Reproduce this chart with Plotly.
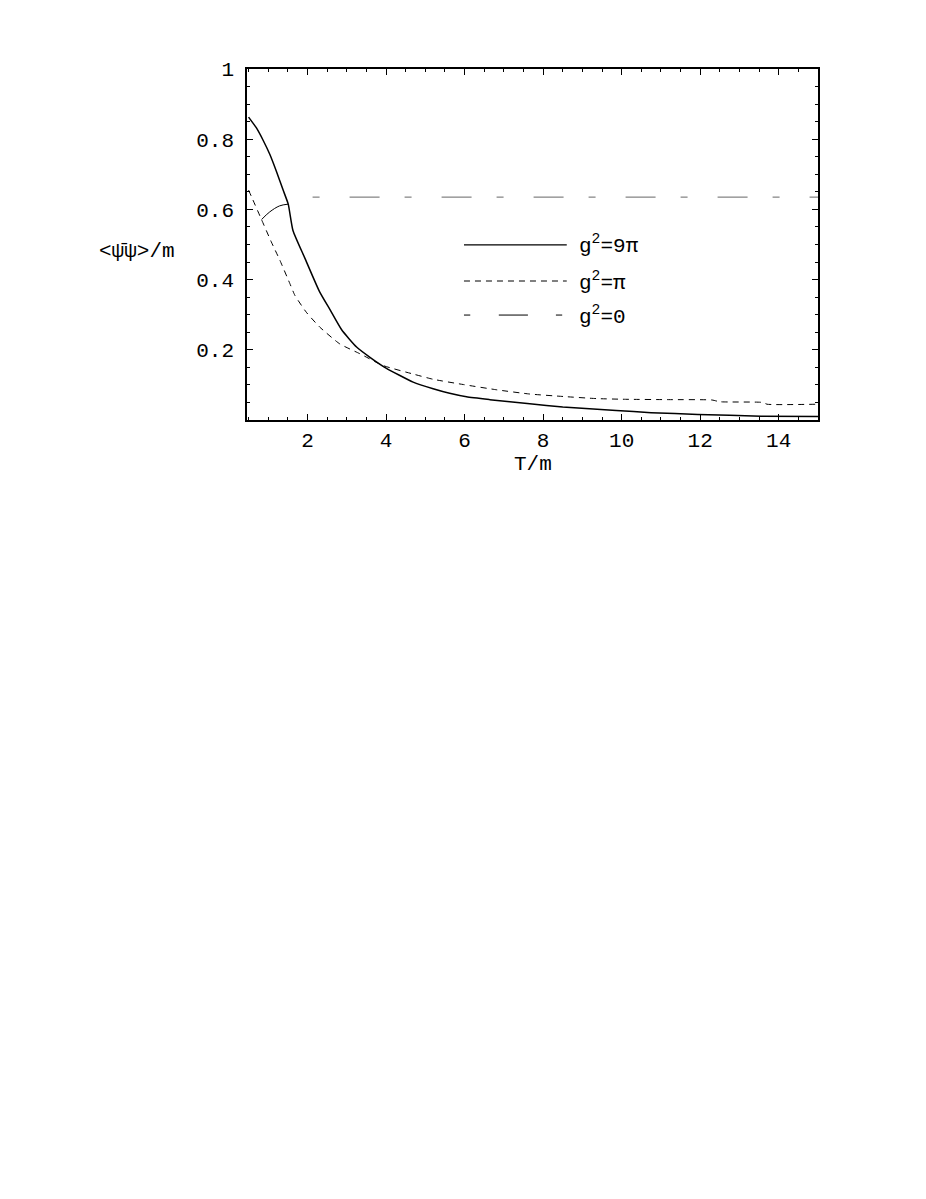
import plotly.graph_objects as go

# ----------------------------------------------------------------
# data: condensate <psi-bar psi>/m vs T/m
# ----------------------------------------------------------------
T_strong = [0.5, 0.7, 0.87, 1.04, 1.21, 1.38, 1.51, 1.63, 1.93, 2.31, 2.57, 2.87,
            3.25, 3.6, 4.0, 4.69, 5.2, 5.62, 6.05, 6.64, 7.66, 8.5, 9.86, 10.75,
            11.94, 13.55, 15.0]
cond_strong = [0.863, 0.832, 0.797, 0.757, 0.708, 0.655, 0.615, 0.54, 0.462, 0.365,
               0.315, 0.257, 0.208, 0.178, 0.148, 0.108, 0.089, 0.076, 0.066, 0.058,
               0.046, 0.037, 0.027, 0.021, 0.016, 0.011, 0.01]

T_mid = [0.5, 0.575, 0.83, 1.08, 1.29, 1.55, 1.68, 1.97, 2.31, 2.82, 3.33, 3.93,
         4.69, 5.2, 5.97, 6.82, 7.66, 8.51, 9.36, 10.1, 11.2, 12.3, 12.5, 13.6,
         13.7, 15.0]
cond_mid = [0.655, 0.636, 0.571, 0.507, 0.457, 0.389, 0.355, 0.307, 0.265, 0.217,
            0.189, 0.155, 0.131, 0.116, 0.101, 0.086, 0.074, 0.067, 0.061, 0.059,
            0.058, 0.057, 0.052, 0.05, 0.045, 0.045]

# g^2 = 0: short arc near low T plus the flat 2/pi level
T_free_arc = [0.83, 1.04, 1.29, 1.51]
cond_free_arc = [0.571, 0.593, 0.61, 0.615]
T_free = [2.13, 15.0]
cond_free = [0.635, 0.635]

x_ticks = [2, 4, 6, 8, 10, 12, 14]
y_ticks = [0.2, 0.4, 0.6, 0.8, 1.0]
y_ticktext = ["0.2", "0.4", "0.6", "0.8", "1"]

legend_labels = ["g<sup>2</sup>=9π", "g<sup>2</sup>=π", "g<sup>2</sup>=0"]

FONT = "Liberation Mono, Courier New, monospace"

fig = go.Figure()
fig.add_trace(go.Scatter(x=T_strong, y=cond_strong, mode="lines",
                         line=dict(color="black", width=1.5, shape="spline", smoothing=0.5)))
fig.add_trace(go.Scatter(x=T_mid, y=cond_mid, mode="lines",
                         line=dict(color="black", width=1, dash="6px,5px",
                                   shape="spline", smoothing=0.5)))
fig.add_trace(go.Scatter(x=T_free_arc, y=cond_free_arc, mode="lines",
                         line=dict(color="black", width=1, shape="spline")))
fig.add_trace(go.Scatter(x=T_free, y=cond_free, mode="lines",
                         line=dict(color="#666666", width=1, dash="7px,30px,30px,25px")))

# hand-drawn legend (long sample lines like the original)
shapes = [
    dict(type="line", xref="paper", yref="paper", x0=0.380, x1=0.560, y0=0.499, y1=0.499,
         line=dict(color="black", width=1.2)),
    dict(type="line", xref="paper", yref="paper", x0=0.380, x1=0.560, y0=0.396, y1=0.396,
         line=dict(color="black", width=1, dash="6px,5px")),
]
for a, b in [(0.380, 0.391), (0.441, 0.492), (0.541, 0.552)]:
    shapes.append(dict(type="line", xref="paper", yref="paper", x0=a, x1=b, y0=0.299, y1=0.299,
                       line=dict(color="black", width=1)))

annotations = []
for lab, yy in zip(legend_labels, [0.499, 0.396, 0.299]):
    annotations.append(dict(text=lab, xref="paper", yref="paper", x=0.578, y=yy,
                            xanchor="left", yanchor="middle", showarrow=False,
                            font=dict(family=FONT, size=21, color="black")))
annotations.append(dict(text="<ψ\u0304ψ>/m", xref="paper", yref="paper", x=-0.192, y=0.479,
                        xanchor="center", yanchor="middle", showarrow=False,
                        font=dict(family=FONT, size=21, color="black")))
annotations.append(dict(text="T/m", xref="paper", yref="paper", x=0.5, y=-0.128,
                        xanchor="center", yanchor="middle", showarrow=False,
                        font=dict(family=FONT, size=21, color="black")))

axis_common = dict(
    showgrid=False, zeroline=False, showline=True, linecolor="black", linewidth=1.5,
    mirror="allticks", ticks="inside", ticklen=6, tickwidth=1, tickcolor="black",
    tickfont=dict(family=FONT, size=21, color="black"),
)

fig.update_layout(
    width=910, height=1183,
    margin=dict(l=239, r=100, t=61, b=771),
    paper_bgcolor="white", plot_bgcolor="white",
    showlegend=False,
    shapes=shapes, annotations=annotations,
    xaxis=dict(range=[0.46, 15.0], tickvals=x_ticks, ticklabelstandoff=0,
               minor=dict(dtick=0.5, tick0=0, ticks="inside", ticklen=3, tickcolor="black"),
               **axis_common),
    yaxis=dict(range=[0, 1.0], tickvals=y_ticks, ticktext=y_ticktext, ticklabelstandoff=7,
               minor=dict(dtick=0.05, tick0=0, ticks="inside", ticklen=3, tickcolor="black"),
               **axis_common),
)

fig.write_html("out.html")
